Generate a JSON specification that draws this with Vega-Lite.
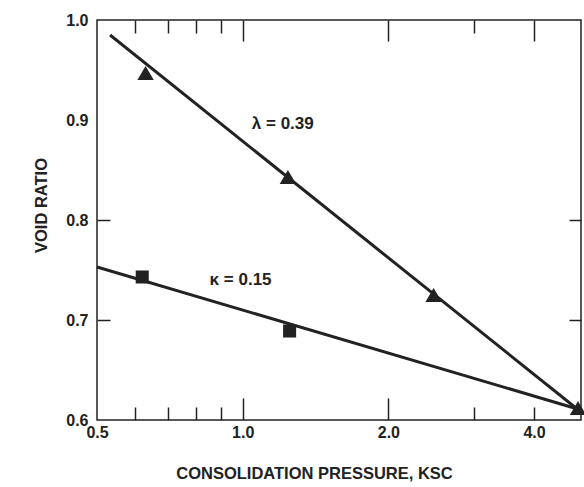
{
  "$schema": "https://vega.github.io/schema/vega-lite/v6.json",
  "width": 484,
  "height": 400,
  "autosize": "none",
  "padding": {"left": 97, "top": 20, "right": 3, "bottom": 67},
  "background": "white",
  "config": {
    "view": {"stroke": "#222", "strokeWidth": 1.5},
    "axis": {
      "domain": false,
      "grid": false,
      "labelFont": "Liberation Sans",
      "labelFontWeight": "bold",
      "labelFontSize": 16,
      "labelColor": "#222",
      "tickColor": "#222",
      "tickWidth": 1.5,
      "titleFont": "Liberation Sans",
      "titleFontWeight": "bold",
      "titleFontSize": 16.5,
      "titleColor": "#222"
    }
  },
  "datasets": {
    "lambda": [
      {"p": 0.532, "e": 0.985},
      {"p": 5.0, "e": 0.608}
    ],
    "kappa": [
      {"p": 0.5, "e": 0.753},
      {"p": 5.0, "e": 0.61}
    ],
    "triangles": [
      {"p": 0.63, "e": 0.947},
      {"p": 1.24, "e": 0.843},
      {"p": 2.48, "e": 0.725},
      {"p": 4.93, "e": 0.612}
    ],
    "squares": [
      {"p": 0.62, "e": 0.743},
      {"p": 1.25, "e": 0.689}
    ],
    "labels": [
      {"p": 1.21, "e": 0.896, "t": "λ = 0.39"},
      {"p": 0.99, "e": 0.74, "t": "κ = 0.15"}
    ]
  },
  "resolve": {"axis": {"x": "independent", "y": "independent"}},
  "layer": [
    {
      "data": {"name": "lambda"},
      "mark": {"type": "line", "color": "#222", "strokeWidth": 3},
      "encoding": {
        "x": {
          "field": "p", "type": "quantitative",
          "scale": {"type": "log", "domain": [0.5, 5], "nice": false, "zero": false},
          "axis": {"orient": "bottom", "values": [0.5, 1, 2, 4], "format": ".1f", "ticks": false, "labelPadding": 4, "labelFlush": false, "labelOverlap": false, "title": "CONSOLIDATION PRESSURE, KSC", "titlePadding": 25, "titleX": 217}
        },
        "y": {
          "field": "e", "type": "quantitative",
          "scale": {"domain": [0.6, 1.0], "nice": false, "zero": false},
          "axis": {"orient": "left", "values": [0.6, 0.7, 0.8, 0.9, 1.0], "format": ".1f", "ticks": false, "labelPadding": 9, "labelFlush": false, "labelOverlap": false, "title": "VOID RATIO", "titlePadding": 16, "titleY": 185}
        }
      }
    },
    {
      "data": {"name": "kappa"},
      "mark": {"type": "line", "color": "#222", "strokeWidth": 3},
      "encoding": {
        "x": {
          "field": "p", "type": "quantitative",
          "axis": {"orient": "bottom", "values": [0.6, 0.7, 0.8, 0.9, 3, 4], "labels": false, "tickSize": -13, "title": null}
        },
        "y": {
          "field": "e", "type": "quantitative",
          "axis": {"orient": "left", "values": [0.7, 0.8], "labels": false, "tickSize": -13, "title": null}
        }
      }
    },
    {
      "data": {"name": "triangles"},
      "mark": {"type": "point", "shape": "triangle-up", "filled": true, "color": "#222", "opacity": 1, "size": 270},
      "encoding": {
        "x": {
          "field": "p", "type": "quantitative",
          "axis": {"orient": "bottom", "values": [1, 2], "labels": false, "tickSize": -22, "title": null}
        },
        "y": {
          "field": "e", "type": "quantitative",
          "axis": {"orient": "right", "values": [0.7, 0.8], "labels": false, "tickSize": -12, "title": null}
        }
      }
    },
    {
      "data": {"name": "squares"},
      "mark": {"type": "point", "shape": "square", "filled": true, "color": "#222", "opacity": 1, "size": 170},
      "encoding": {
        "x": {
          "field": "p", "type": "quantitative",
          "axis": {"orient": "top", "values": [0.6, 0.7, 0.8, 0.9, 3], "labels": false, "tickSize": -13, "title": null}
        },
        "y": {"field": "e", "type": "quantitative", "axis": null}
      }
    },
    {
      "data": {"name": "labels"},
      "mark": {"type": "text", "font": "Liberation Sans", "fontWeight": "bold", "fontSize": 17, "color": "#222"},
      "encoding": {
        "x": {
          "field": "p", "type": "quantitative",
          "axis": {"orient": "top", "values": [1, 2, 4], "labels": false, "tickSize": -21, "title": null}
        },
        "y": {"field": "e", "type": "quantitative", "axis": null},
        "text": {"field": "t"}
      }
    }
  ]
}
